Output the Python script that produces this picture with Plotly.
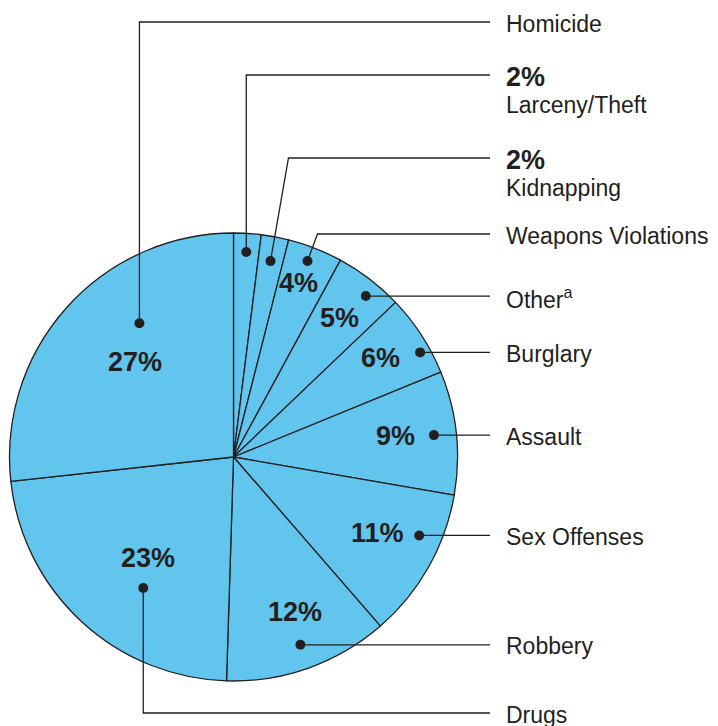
import math
import plotly.graph_objects as go

# ---- data ----
categories = ["Larceny/Theft", "Kidnapping", "Weapons Violations", "Other", "Burglary",
              "Assault", "Sex Offenses", "Robbery", "Drugs", "Homicide"]
shares = [2, 2, 4, 5, 6, 9, 11, 12, 23, 27]
label_texts = ["Larceny/Theft", "Kidnapping", "Weapons Violations", "Other<sup>a</sup>", "Burglary",
               "Assault", "Sex Offenses", "Robbery", "Drugs", "Homicide"]

# ---- style / layout (not data) ----
PAGE_W, PAGE_H = 718, 726
OFF = 8  # default page body margin
W, H = PAGE_W - OFF, PAGE_H - OFF
CX, CY, R = 233.5, 457.0, 224.0
FILL = "#62C5EE"
INK = "#231F20"
FONT = "Liberation Sans, Arial, Helvetica, sans-serif"
pct_inside = [False, False, True, True, True, True, True, True, True, True]
text_frac = [0, 0, 0.83, 0.78, 0.79, 0.73, 0.725, 0.745, 0.59, 0.61]
text_shift = [0, 0, -0.8, 0, -1, -1, -1.5, -2, -2.5, 2]
dot_frac = [0.917, 0.89, 0.935, 0.93, 0.955, 0.90, 0.90, 0.89, 0.71, 0.73]
dot_shift = [0, 0, -0.7, 2, 3.7, 0, -6.5, 0, -8.2, 13]
label_y = [75, 158, 234, None, None, None, None, None, 713, 22]
elbow_dx = [0, 18, 10, 0, 0, 0, 0, 0, 0, 0]
LINE_END_X = 490
LABEL_X = 504
LABEL_DY = 1.5
DOT_R = 5

total = sum(shares)


def polar(angle_deg, frac):
    a = math.radians(angle_deg)
    return CX + frac * R * math.sin(a), CY - frac * R * math.cos(a)


fig = go.Figure()
fig.add_trace(go.Pie(
    values=shares, labels=categories, sort=False, direction="clockwise", rotation=0,
    textinfo="none", hoverinfo="skip", showlegend=False,
    marker=dict(colors=[FILL] * len(shares), line=dict(color=INK, width=1.3)),
    domain=dict(x=[(CX - R - OFF) / W, (CX + R - OFF) / W],
                y=[1 - (CY + R - OFF) / H, 1 - (CY - R - OFF) / H]),
))
# invisible trace to anchor the cartesian axes
fig.add_trace(go.Scatter(x=[OFF, PAGE_W], y=[OFF, PAGE_H], mode="markers",
                         marker=dict(opacity=0), hoverinfo="skip", showlegend=False))

annotations = []
shapes = []
cum = 0
for i, v in enumerate(shares):
    mid = (cum + v / 2) / total * 360
    cum += v
    pct = f"{v}%"
    if pct_inside[i]:
        tx, ty = polar(mid + text_shift[i], text_frac[i])
        annotations.append(dict(x=tx, y=ty, xref="x", yref="y", text=f"<b>{pct}</b>",
                                showarrow=False, xanchor="center", yanchor="middle",
                                font=dict(family=FONT, size=27, color=INK)))
    dx, dy = polar(mid + dot_shift[i], dot_frac[i])
    ly = label_y[i] if label_y[i] is not None else dy
    ex = dx + elbow_dx[i]
    shapes.append(dict(type="path", xref="x", yref="y", layer="above",
                       path=f"M{dx},{dy} L{ex},{ly} L{LINE_END_X},{ly}",
                       line=dict(color=INK, width=1.3)))
    shapes.append(dict(type="circle", xref="x", yref="y", layer="above",
                       x0=dx - DOT_R, x1=dx + DOT_R, y0=dy - DOT_R, y1=dy + DOT_R,
                       fillcolor=INK, line=dict(color=INK, width=0)))
    if pct_inside[i]:
        annotations.append(dict(x=LABEL_X, y=ly + LABEL_DY, xref="x", yref="y", text=label_texts[i],
                                showarrow=False, xanchor="left", yanchor="middle",
                                font=dict(family=FONT, size=23, color=INK)))
    else:
        annotations.append(dict(x=LABEL_X, y=ly + LABEL_DY, xref="x", yref="y", text=f"<b>{pct}</b>",
                                showarrow=False, xanchor="left", yanchor="middle",
                                font=dict(family=FONT, size=27, color=INK)))
        annotations.append(dict(x=LABEL_X, y=ly + 28 + LABEL_DY, xref="x", yref="y", text=label_texts[i],
                                showarrow=False, xanchor="left", yanchor="middle",
                                font=dict(family=FONT, size=23, color=INK)))

fig.update_layout(
    width=W, height=H, margin=dict(l=0, r=0, t=0, b=0),
    paper_bgcolor="white", plot_bgcolor="rgba(0,0,0,0)",
    xaxis=dict(range=[OFF, PAGE_W], visible=False, fixedrange=True),
    yaxis=dict(range=[PAGE_H, OFF], visible=False, fixedrange=True),
    annotations=annotations, shapes=shapes,
)
fig.write_html("out.html")
